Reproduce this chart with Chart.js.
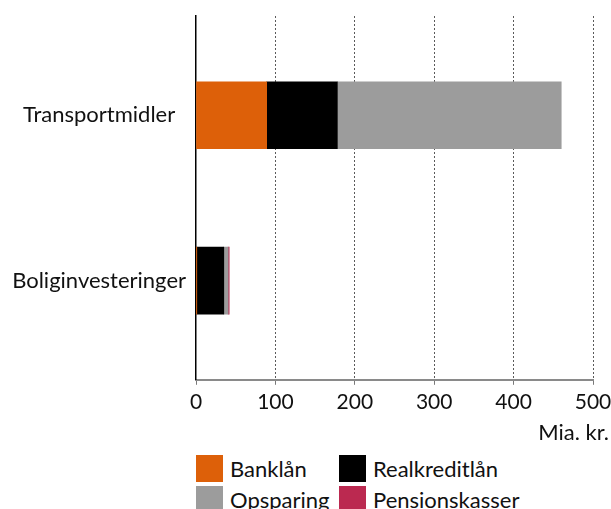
<!DOCTYPE html>
<html>
<head>
<meta charset="utf-8">
<script src="https://cdn.jsdelivr.net/npm/chart.js@4"></script>
<style>
  html, body { margin: 0; padding: 0; background: #fff; overflow: hidden; }
  /* a bit wider than the window so the last tick label is cut like in the original */
  #wrap { position: absolute; left: 0; top: 0; width: 617px; height: 450px; }
  #legend { position: absolute; left: 196px; top: 455px; display: grid;
    grid-template-columns: 143px 180px; row-gap: 4px;
    font-family: Lato, sans-serif; font-size: 22px; color: #111; }
  .item { display: flex; align-items: center; height: 27px; white-space: nowrap; }
  .box { width: 27px; height: 27px; margin-right: 7px; flex: none; }
</style>
</head>
<body>
<div id="wrap"><canvas id="myChart"></canvas></div>
<div id="legend"></div>
<script>
// data (mia. kr.)
var categories = ['Transportmidler', 'Boliginvesteringer'];
var seriesNames = ['Banklån', 'Realkreditlån', 'Opsparing', 'Pensionskasser'];
var banklaan = [89, 1];
var realkredit = [89, 34];
var opsparing = [282, 5.5];
var pension = [null, 1.3];
var xTicks = [0, 100, 200, 300, 400, 500];
var colors = ['#dd6009', '#000000', '#9c9c9c', '#bb2950'];

var font = 'Lato';
var textColor = '#111';

// draws the unit label under the x axis, right side
var unitLabel = {
    id: 'unitLabel',
    afterDraw: function(chart) {
        var c = chart.ctx;
        c.save();
        c.font = '22px ' + font;
        c.fillStyle = textColor;
        c.textAlign = 'right';
        c.textBaseline = 'middle';
        c.fillText('Mia. kr.', chart.chartArea.right + 16, chart.chartArea.bottom + 53);
        c.restore();
    }
};

var ctx = document.getElementById('myChart').getContext('2d');
var myChart = new Chart(ctx, {
    type: 'bar',
    data: {
        labels: categories,
        datasets: [
            { label: seriesNames[0], data: banklaan, backgroundColor: colors[0] },
            { label: seriesNames[1], data: realkredit, backgroundColor: colors[1] },
            { label: seriesNames[2], data: opsparing, backgroundColor: colors[2] },
            { label: seriesNames[3], data: pension, backgroundColor: colors[3] }
        ]
    },
    options: {
        indexAxis: 'y',
        responsive: true,
        maintainAspectRatio: false,
        animation: false,
        layout: { padding: { top: 16, left: 0, right: 24, bottom: 30 } },
        datasets: { bar: { barThickness: 67 } },
        plugins: {
            legend: { display: false },
            tooltip: { enabled: false }
        },
        scales: {
            x: {
                stacked: true,
                min: 0,
                max: 500,
                afterBuildTicks: function(scale) {
                    scale.ticks = xTicks.map(function(v) { return { value: v }; });
                },
                afterFit: function(scale) {
                    scale.paddingLeft = 0;
                    scale.paddingRight = 0;
                },
                grid: {
                    color: function(c) { return c.index === 0 ? 'rgba(0,0,0,0)' : '#5a5a5a'; },
                    lineWidth: 1,
                    tickLength: 5,
                    tickColor: '#7a7a7a'
                },
                border: { display: true, color: '#8a8a8a', width: 2, dash: [2, 2] },
                ticks: { font: { family: font, size: 21 }, color: textColor, padding: 5, maxRotation: 0 }
            },
            y: {
                stacked: true,
                // spread categories like the original (bars sit a bit closer to the middle)
                afterBuildTicks: function(scale) {
                    scale._startValue = -0.6;
                    scale._valueRange = 2.2;
                },
                afterFit: function(scale) {
                    scale.width = 196;
                    scale.paddingTop = 0;
                    scale.paddingBottom = 0;
                },
                grid: { display: false, drawTicks: false },
                border: { display: true, color: '#000', width: 1.5 },
                ticks: { font: { family: font, size: 22 }, color: textColor, crossAlign: 'center', padding: 10 }
            }
        }
    },
    plugins: [unitLabel]
});

// html legend in two columns
var legendEl = document.getElementById('legend');
myChart.data.datasets.forEach(function(ds) {
    var item = document.createElement('div');
    item.className = 'item';
    var box = document.createElement('span');
    box.className = 'box';
    box.style.background = ds.backgroundColor;
    item.appendChild(box);
    item.appendChild(document.createTextNode(ds.label));
    legendEl.appendChild(item);
});
</script>
</body>
</html>
